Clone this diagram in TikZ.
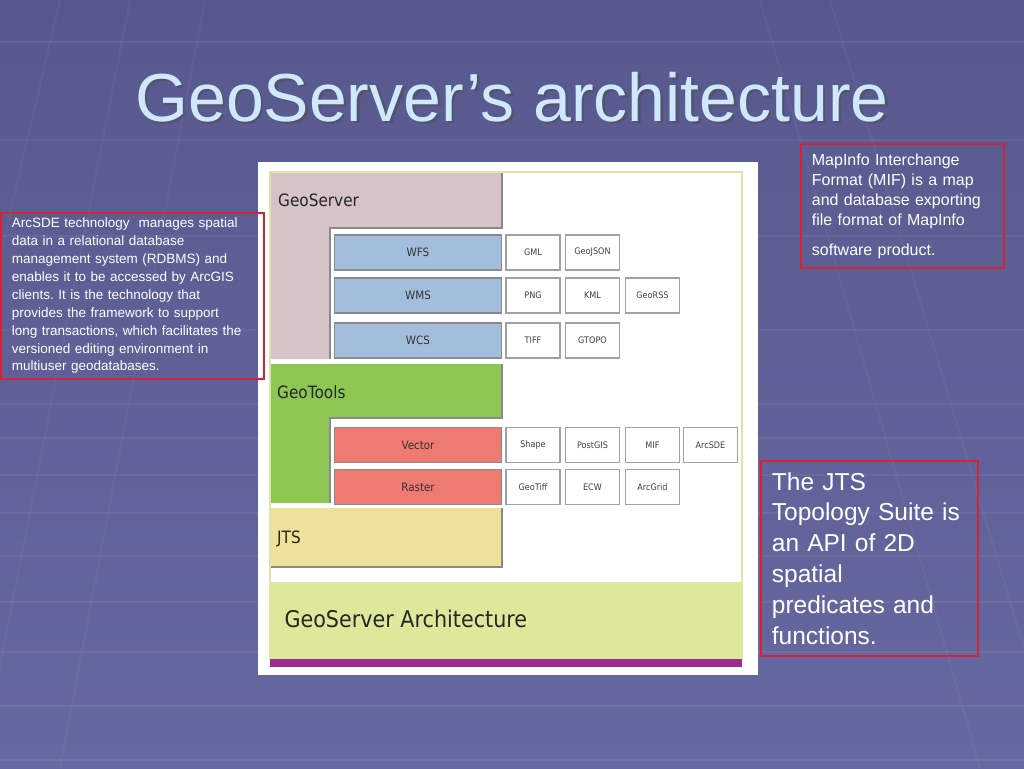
\documentclass[tikz,border=0pt]{standalone}
\usepackage{fontspec}
\setmainfont{Liberation Sans}
\newfontfamily\diagfont[FakeStretch=0.9]{DejaVu Sans}
\usetikzlibrary{positioning}
\frenchspacing

\definecolor{slidetop}{HTML}{57598E}
\definecolor{slidebot}{HTML}{6668A0}
\definecolor{titleblue}{HTML}{CFE8FB}
\definecolor{noteborder}{HTML}{D02438}
\definecolor{gspink}{HTML}{D5C3C5}
\definecolor{gsblue}{HTML}{A3BEDD}
\definecolor{gtgreen}{HTML}{8DC653}
\definecolor{gtred}{HTML}{EE7A72}
\definecolor{jtsyellow}{HTML}{EEE19A}
\definecolor{bandgreen}{HTML}{DEE89B}
\definecolor{bandpurple}{HTML}{992A8F}
\definecolor{framegreen}{HTML}{DDE6A8}
\definecolor{edgegray}{HTML}{8A8A8A}

\tikzset{
  notebox/.style={draw=noteborder, line width=1.8pt, anchor=north west,
    align=left, text=white, inner xsep=11pt, inner ysep=0pt},
  layerlabel/.style={anchor=west, font=\diagfont\fontsize{17}{17}\selectfont,
    text=black!85, inner sep=0pt},
  svcbox/.style={draw=edgegray, line width=1.2pt, minimum width=167pt,
    minimum height=35pt, inner sep=0pt, font=\diagfont\fontsize{11.5}{11.5}\selectfont,
    text=black!80},
  fmtbox/.style={draw=edgegray!80, fill=white, line width=1.2pt, minimum width=54pt,
    minimum height=35pt, inner sep=0pt, font=\diagfont\fontsize{9}{9}\selectfont,
    text=black!75}
}

\begin{document}
\begin{tikzpicture}[x=1pt, y=-1pt]
  \useasboundingbox (0,0) rectangle (1024,768);

  % Slide background
  \shade[top color=slidetop, bottom color=slidebot] (0,0) rectangle (1024,768);
  \foreach \yy in {42,140,236,330,404,438,475,513,556,602,652,706,760}
    \draw[white, opacity=0.06, line width=1.5pt] (0,\yy) -- (1024,\yy);
  \foreach \xa/\xb in {60/-120, 130/-20, 205/60, 760/980, 830/1060}
    \draw[white, opacity=0.04, line width=2pt] (\xa,0) -- (\xb,768);

  % Title
  \node[anchor=base, font=\fontsize{68}{68}\selectfont, text=black!70, opacity=0.5]
    (titleshadow) at (514.5,123.5) {GeoServer’s architecture};
  \node[anchor=base, font=\fontsize{68}{68}\selectfont, text=titleblue]
    (title) at (512,121) {GeoServer’s architecture};

  % Architecture picture
  \fill[white] (258,162) rectangle (758,675);
  \draw[framegreen, line width=2pt] (270,172) rectangle (742,659);
  \fill[bandgreen] (270,582) rectangle (742,659);
  \fill[bandpurple] (270,659) rectangle (742,667);
  \node[anchor=west, font=\diagfont\fontsize{23}{23}\selectfont, text=black!85]
    (caption) at (281,619) {GeoServer Architecture};

  % GeoServer layer
  \fill[gspink] (271,173) -- (502,173) -- (502,228) -- (330,228) -- (330,359) -- (271,359) -- cycle;
  \draw[edgegray, line width=1.2pt] (502,173) -- (502,228) -- (330,228) -- (330,359);
  \node[layerlabel] (geoserver) at (278,200) {GeoServer};
  \node[svcbox, fill=gsblue] (wfs) at (418,252.5) {WFS};
  \node[svcbox, fill=gsblue] (wms) at (418,295.5) {WMS};
  \node[svcbox, fill=gsblue] (wcs) at (418,340.5) {WCS};
  \node[fmtbox] (gml) at (533,252.5) {GML};
  \node[fmtbox] (geojson) at (592.5,252.5) {GeoJSON};
  \node[fmtbox] (png) at (533,295.5) {PNG};
  \node[fmtbox] (kml) at (592.5,295.5) {KML};
  \node[fmtbox] (georss) at (652.5,295.5) {GeoRSS};
  \node[fmtbox] (tiff) at (533,340.5) {TIFF};
  \node[fmtbox] (gtopo) at (592.5,340.5) {GTOPO};

  % GeoTools layer
  \fill[gtgreen] (271,364) -- (502,364) -- (502,418) -- (330,418) -- (330,503) -- (271,503) -- cycle;
  \draw[edgegray, line width=1.2pt] (502,364) -- (502,418) -- (330,418) -- (330,503);
  \node[layerlabel] (geotools) at (277,392) {GeoTools};
  \node[svcbox, fill=gtred] (vector) at (418,445) {Vector};
  \node[svcbox, fill=gtred] (raster) at (418,487) {Raster};
  \node[fmtbox] (shape) at (533,445) {Shape};
  \node[fmtbox] (postgis) at (592.5,445) {PostGIS};
  \node[fmtbox] (mif) at (652.5,445) {MIF};
  \node[fmtbox] (arcsde) at (710.5,445) {ArcSDE};
  \node[fmtbox] (geotiff) at (533,487) {GeoTiff};
  \node[fmtbox] (ecw) at (592.5,487) {ECW};
  \node[fmtbox] (arcgrid) at (652.5,487) {ArcGrid};

  % JTS layer
  \fill[jtsyellow] (271,508) rectangle (502,567);
  \draw[edgegray, line width=1.2pt] (271,567) -- (502,567) -- (502,508);
  \node[layerlabel] (jts) at (277,539) {JTS};

  % Notes
  \node[notebox, minimum width=263pt, minimum height=166pt, text width=241pt,
    font=\fontsize{13.5}{17.9}\selectfont] (arcsdenote) at (0,212)
    {ArcSDE technology\ \ manages spatial\\
     data in a relational database\\
     management system (RDBMS) and\\
     enables it to be accessed by ArcGIS\\
     clients. It is the technology that\\
     provides the framework to support\\
     long transactions, which facilitates the\\
     versioned editing environment in\\
     multiuser geodatabases.};
  \node[notebox, minimum width=203pt, minimum height=124pt, text width=181pt,
    font=\fontsize{16}{20}\selectfont] (mifnote) at (800,143)
    {MapInfo Interchange\\
     Format (MIF) is a map\\
     and database exporting\\
     file format of MapInfo\\[10pt]
     software product.};
  \node[notebox, minimum width=217pt, minimum height=195pt, text width=195pt,
    font=\fontsize{24.5}{30.8}\selectfont] (jtsnote) at (760,460)
    {The JTS\\
     Topology Suite is\\
     an API of 2D\\
     spatial\\
     predicates and\\
     functions.};
\end{tikzpicture}
\end{document}
